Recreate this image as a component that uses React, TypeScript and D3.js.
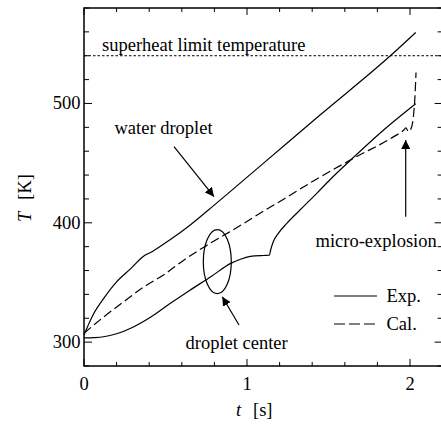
import React from 'react'
import * as d3 from 'd3'

// water droplet surface (Exp.)
const waterT = [0, 0.06, 0.12, 0.2, 0.29, 0.365, 0.42, 0.53, 0.65, 0.763, 1.1, 1.448, 1.888, 2.035]
const waterK = [306, 324, 336.5, 350.5, 362, 372, 376, 386, 398, 410.7, 449.8, 490.3, 541, 559.5]

// droplet center (Exp.)
const centerT = [0, 0.06, 0.12, 0.2, 0.3, 0.41, 0.53, 0.65, 0.78, 0.9, 0.96, 1.02, 1.1, 1.137, 1.145, 1.161, 1.192, 1.244, 1.325, 1.428, 1.509, 1.636, 1.84, 2.035]
const centerK = [303.5, 303.8, 304.5, 307, 312.5, 321, 332.5, 343.5, 355, 366, 369.5, 371.8, 372.6, 372.8, 377.2, 384.1, 391.2, 399.5, 410.7, 424.7, 436.1, 452.6, 478, 499.8]

// calculation
const calT = [0, 0.12, 0.245, 0.37, 0.49, 0.61, 0.74, 0.86, 0.98, 1.08, 1.227, 1.407, 1.652, 1.898, 1.96, 1.975, 1.99, 2.005, 2.02, 2.03, 2.037]
const calK = [307.5, 321, 334, 346.5, 356.5, 368.5, 380, 389.7, 399.5, 408, 420, 435, 454, 472, 477.5, 479.5, 476.5, 478.5, 488, 505, 526]

const superheatK = 540
const xLabels = [0, 1, 2]
const yLabels = [300, 400, 500]

const W = 441, H = 430
const font = 'Liberation Serif, DejaVu Serif, Tinos, serif'
const fs = 18.5

const App = () => {
    const x = d3.scaleLinear().domain([0, 2.2]).range([84, 442.6])
    const y = d3.scaleLinear().domain([280, 580]).range([366, 8])

    const line = d3.line<[number, number]>()
        .x(d => x(d[0]))
        .y(d => y(d[1]))
        .curve(d3.curveMonotoneX)

    const zip = (a: number[], b: number[]) => a.map((v, i) => [v, b[i]] as [number, number])

    const xTicks = d3.range(0, 2.21, 0.2)
    const yTicks = d3.range(280, 581, 20)
    const isMajorX = (v: number) => Math.abs(v - Math.round(v)) < 1e-6
    const isMajorY = (v: number) => v % 100 === 0

    const x0 = x(0), x1 = x(2.2), yb = y(280), yt = y(580)

    return (
        <svg width={W} height={H} style={{ position: 'absolute', left: 0, top: 0, background: '#fff' }}>
            <defs>
                <marker id="arr" viewBox="0 0 10 10" refX="10" refY="5" markerWidth="9" markerHeight="9"
                    markerUnits="userSpaceOnUse" orient="auto">
                    <path d="M0,0 L10,5 L0,10 Z" fill="#000" />
                </marker>
            </defs>

            {/* frame */}
            <rect x={x0} y={yt} width={x1 - x0} height={yb - yt} fill="none" stroke="#000" strokeWidth={1.5} />

            {/* x ticks bottom / top */}
            {xTicks.map((v, i) => {
                const len = isMajorX(v) ? 7 : 4
                return (
                    <g key={'xt' + i}>
                        <line x1={x(v)} x2={x(v)} y1={yb} y2={yb - len} stroke="#000" strokeWidth={1} />
                        <line x1={x(v)} x2={x(v)} y1={yt} y2={yt + len} stroke="#000" strokeWidth={1} />
                    </g>
                )
            })}
            {/* y ticks left / right */}
            {yTicks.map((v, i) => {
                const len = isMajorY(v) ? 8 : 5
                return (
                    <g key={'yt' + i}>
                        <line x1={x0} x2={x0 + len} y1={y(v)} y2={y(v)} stroke="#000" strokeWidth={1} />
                        <line x1={x1} x2={x1 - len} y1={y(v)} y2={y(v)} stroke="#000" strokeWidth={1} />
                    </g>
                )
            })}

            <g fontFamily={font} fontSize={fs}>
                {xLabels.map(v => (
                    <text key={'xl' + v} x={x(v)} y={389.5} textAnchor="middle">{v}</text>
                ))}
                {yLabels.map(v => (
                    <text key={'yl' + v} x={80.5} y={y(v) + 6} textAnchor="end">{v}</text>
                ))}

                {/* axis titles */}
                <text x={236} y={416}>
                    <tspan fontStyle="italic">t</tspan>
                    <tspan x={253}>[s]</tspan>
                </text>
                <text transform="translate(31,222) rotate(-90)">
                    <tspan fontStyle="italic">T</tspan>
                    <tspan dx={12}>[K]</tspan>
                </text>

                <text x={102} y={50.5}>superheat limit temperature</text>
                <text x={114.5} y={133.5}>water droplet</text>
                <text x={185.5} y={348.5}>droplet center</text>
                <text x={315.5} y={246.5}>micro-explosion</text>
                <text x={386.5} y={302}>Exp.</text>
                <text x={386.5} y={330}>Cal.</text>
            </g>

            {/* superheat limit */}
            <line x1={x0} x2={x1} y1={y(superheatK)} y2={y(superheatK)} stroke="#000" strokeWidth={1}
                strokeDasharray="2.5,2" />

            {/* curves */}
            <path d={line(zip(waterT, waterK)) || ''} fill="none" stroke="#000" strokeWidth={1.2} />
            <path d={line(zip(centerT, centerK)) || ''} fill="none" stroke="#000" strokeWidth={1.2} />
            <path d={line(zip(calT, calK)) || ''} fill="none" stroke="#000" strokeWidth={1.2}
                strokeDasharray="9,4" />

            {/* annotations */}
            <line x1={174} y1={146.7} x2={214} y2={196.7} stroke="#000" strokeWidth={1.2} markerEnd="url(#arr)" />
            <ellipse cx={217.3} cy={261.7} rx={14} ry={32} fill="none" stroke="#000" strokeWidth={1.2} />
            <line x1={239} y1={325} x2={222.3} y2={296.7} stroke="#000" strokeWidth={1.2} markerEnd="url(#arr)" />
            <line x1={405.7} y1={216.7} x2={405.7} y2={140} stroke="#000" strokeWidth={1.2} markerEnd="url(#arr)" />

            {/* legend */}
            <line x1={334} x2={377} y1={296} y2={296} stroke="#000" strokeWidth={1.2} />
            <line x1={334} x2={377} y1={324} y2={324} stroke="#000" strokeWidth={1.2} strokeDasharray="11,4" />
        </svg>
    )
}

export default App
